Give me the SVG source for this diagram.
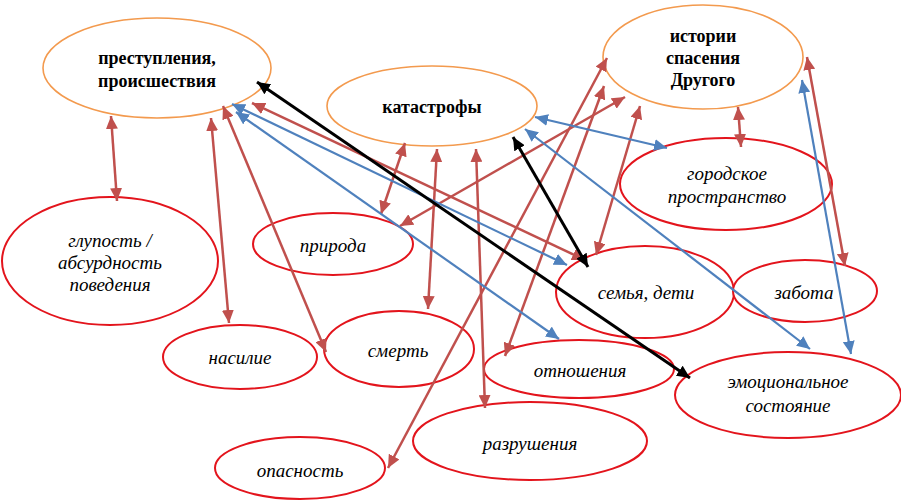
<svg xmlns="http://www.w3.org/2000/svg" width="901" height="501" viewBox="0 0 901 501">
<style>
.bg{fill:#ffffff}
.main{fill:#ffffff;stroke:#F39A4E;stroke-width:1.6}
.sub{fill:#ffffff;stroke:#E3141C;stroke-width:2}
.tm{font-weight:bold;font-size:18px;fill:#000;text-anchor:middle}
.ts{font-style:italic;font-size:19px;fill:#000;text-anchor:middle}
.r{stroke:#C0504D;stroke-width:2.5;fill:none;marker-start:url(#ar);marker-end:url(#ar)}
.b{stroke:#4F81BD;stroke-width:2.2;fill:none;marker-start:url(#ab);marker-end:url(#ab)}
.k{stroke:#000000;stroke-width:3;fill:none;marker-start:url(#ak);marker-end:url(#ak)}
</style>
<defs>
<marker id="ar" markerUnits="userSpaceOnUse" markerWidth="14" markerHeight="12" refX="13" refY="6" orient="auto-start-reverse"><path d="M0,0 L13,6 L0,12 z" fill="#C0504D"/></marker>
<marker id="ab" markerUnits="userSpaceOnUse" markerWidth="14" markerHeight="12" refX="13" refY="6" orient="auto-start-reverse"><path d="M0,0 L13,6 L0,12 z" fill="#4F81BD"/></marker>
<marker id="ak" markerUnits="userSpaceOnUse" markerWidth="14" markerHeight="12" refX="13" refY="6" orient="auto-start-reverse"><path d="M0,0 L13,6 L0,12 z" fill="#000000"/></marker>
</defs>
<rect class="bg" x="0" y="0" width="901" height="501"/>

<g font-family="Liberation Serif, Times New Roman, serif">
<g id="n-prestupleniya"><ellipse class="main" cx="157" cy="68" rx="114" ry="50"/><text class="tm" x="157" y="64">преступления,</text><text class="tm" x="157" y="87">происшествия</text></g>
<g id="n-katastrofy"><ellipse class="main" cx="432" cy="106" rx="105" ry="40"/><text class="tm" x="432" y="113">катастрофы</text></g>
<g id="n-istorii"><ellipse class="main" cx="703" cy="57" rx="100" ry="52"/><text class="tm" x="703" y="42">истории</text><text class="tm" x="703" y="64">спасения</text><text class="tm" x="703" y="86">Другого</text></g>
<g id="n-gorodskoe"><ellipse class="sub" cx="726" cy="184" rx="106" ry="46"/><text class="ts" x="727" y="180">городское</text><text class="ts" x="727" y="203">пространство</text></g>
<g id="n-glupost"><ellipse class="sub" cx="110" cy="261" rx="108" ry="64"/><text class="ts" x="110" y="247">глупость /</text><text class="ts" x="110" y="269">абсурдность</text><text class="ts" x="110" y="291">поведения</text></g>
<g id="n-priroda"><ellipse class="sub" cx="333" cy="244" rx="80" ry="31"/><text class="ts" x="333" y="252">природа</text></g>
<g id="n-nasilie"><ellipse class="sub" cx="240" cy="357" rx="77" ry="32"/><text class="ts" x="240" y="364">насилие</text></g>
<g id="n-smert"><ellipse class="sub" cx="399" cy="349" rx="75" ry="38"/><text class="ts" x="398" y="357">смерть</text></g>
<g id="n-semya"><ellipse class="sub" cx="645" cy="292" rx="89" ry="46"/><text class="ts" x="646" y="299">семья, дети</text></g>
<g id="n-zabota"><ellipse class="sub" cx="805" cy="291" rx="72" ry="31"/><text class="ts" x="804" y="299">забота</text></g>
<g id="n-otnosheniya"><ellipse class="sub" cx="579" cy="369" rx="95" ry="29"/><text class="ts" x="580" y="377">отношения</text></g>
<g id="n-emocionalnoe"><ellipse class="sub" cx="788" cy="395" rx="113" ry="43"/><text class="ts" x="788" y="388">эмоциональное</text><text class="ts" x="788" y="412">состояние</text></g>
<g id="n-razrusheniya"><ellipse class="sub" cx="530" cy="441" rx="117" ry="39"/><text class="ts" x="530" y="450">разрушения</text></g>
<g id="n-opasnost"><ellipse class="sub" cx="300" cy="468" rx="85" ry="31"/><text class="ts" x="300" y="477">опасность</text></g>
</g>

<g id="connectors">
<line class="r" x1="111" y1="116" x2="117" y2="201"/>
<line class="r" x1="211" y1="118" x2="229" y2="323"/>
<line class="r" x1="223" y1="106" x2="326" y2="352"/>
<line class="r" x1="252" y1="103" x2="585" y2="260"/>
<line class="r" x1="405" y1="143" x2="381" y2="214"/>
<line class="r" x1="437" y1="149" x2="428" y2="309"/>
<line class="r" x1="476" y1="149" x2="485" y2="408"/>
<line class="r" x1="400" y1="226" x2="625" y2="97"/>
<line class="r" x1="388" y1="468" x2="607" y2="58"/>
<line class="r" x1="505" y1="356" x2="604" y2="86"/>
<line class="r" x1="596" y1="255" x2="640" y2="106"/>
<line class="r" x1="738" y1="107" x2="741" y2="147"/>
<line class="r" x1="807" y1="57" x2="845" y2="266"/>
<line class="b" x1="232" y1="104" x2="567" y2="265"/>
<line class="b" x1="236" y1="112" x2="559" y2="339"/>
<line class="b" x1="535" y1="117" x2="667" y2="148"/>
<line class="b" x1="525" y1="129" x2="810" y2="349"/>
<line class="b" x1="802" y1="80" x2="851" y2="354"/>
<line class="k" x1="257" y1="82" x2="690" y2="378"/>
<line class="k" x1="513" y1="137" x2="588" y2="267"/>
</g>
</svg>
